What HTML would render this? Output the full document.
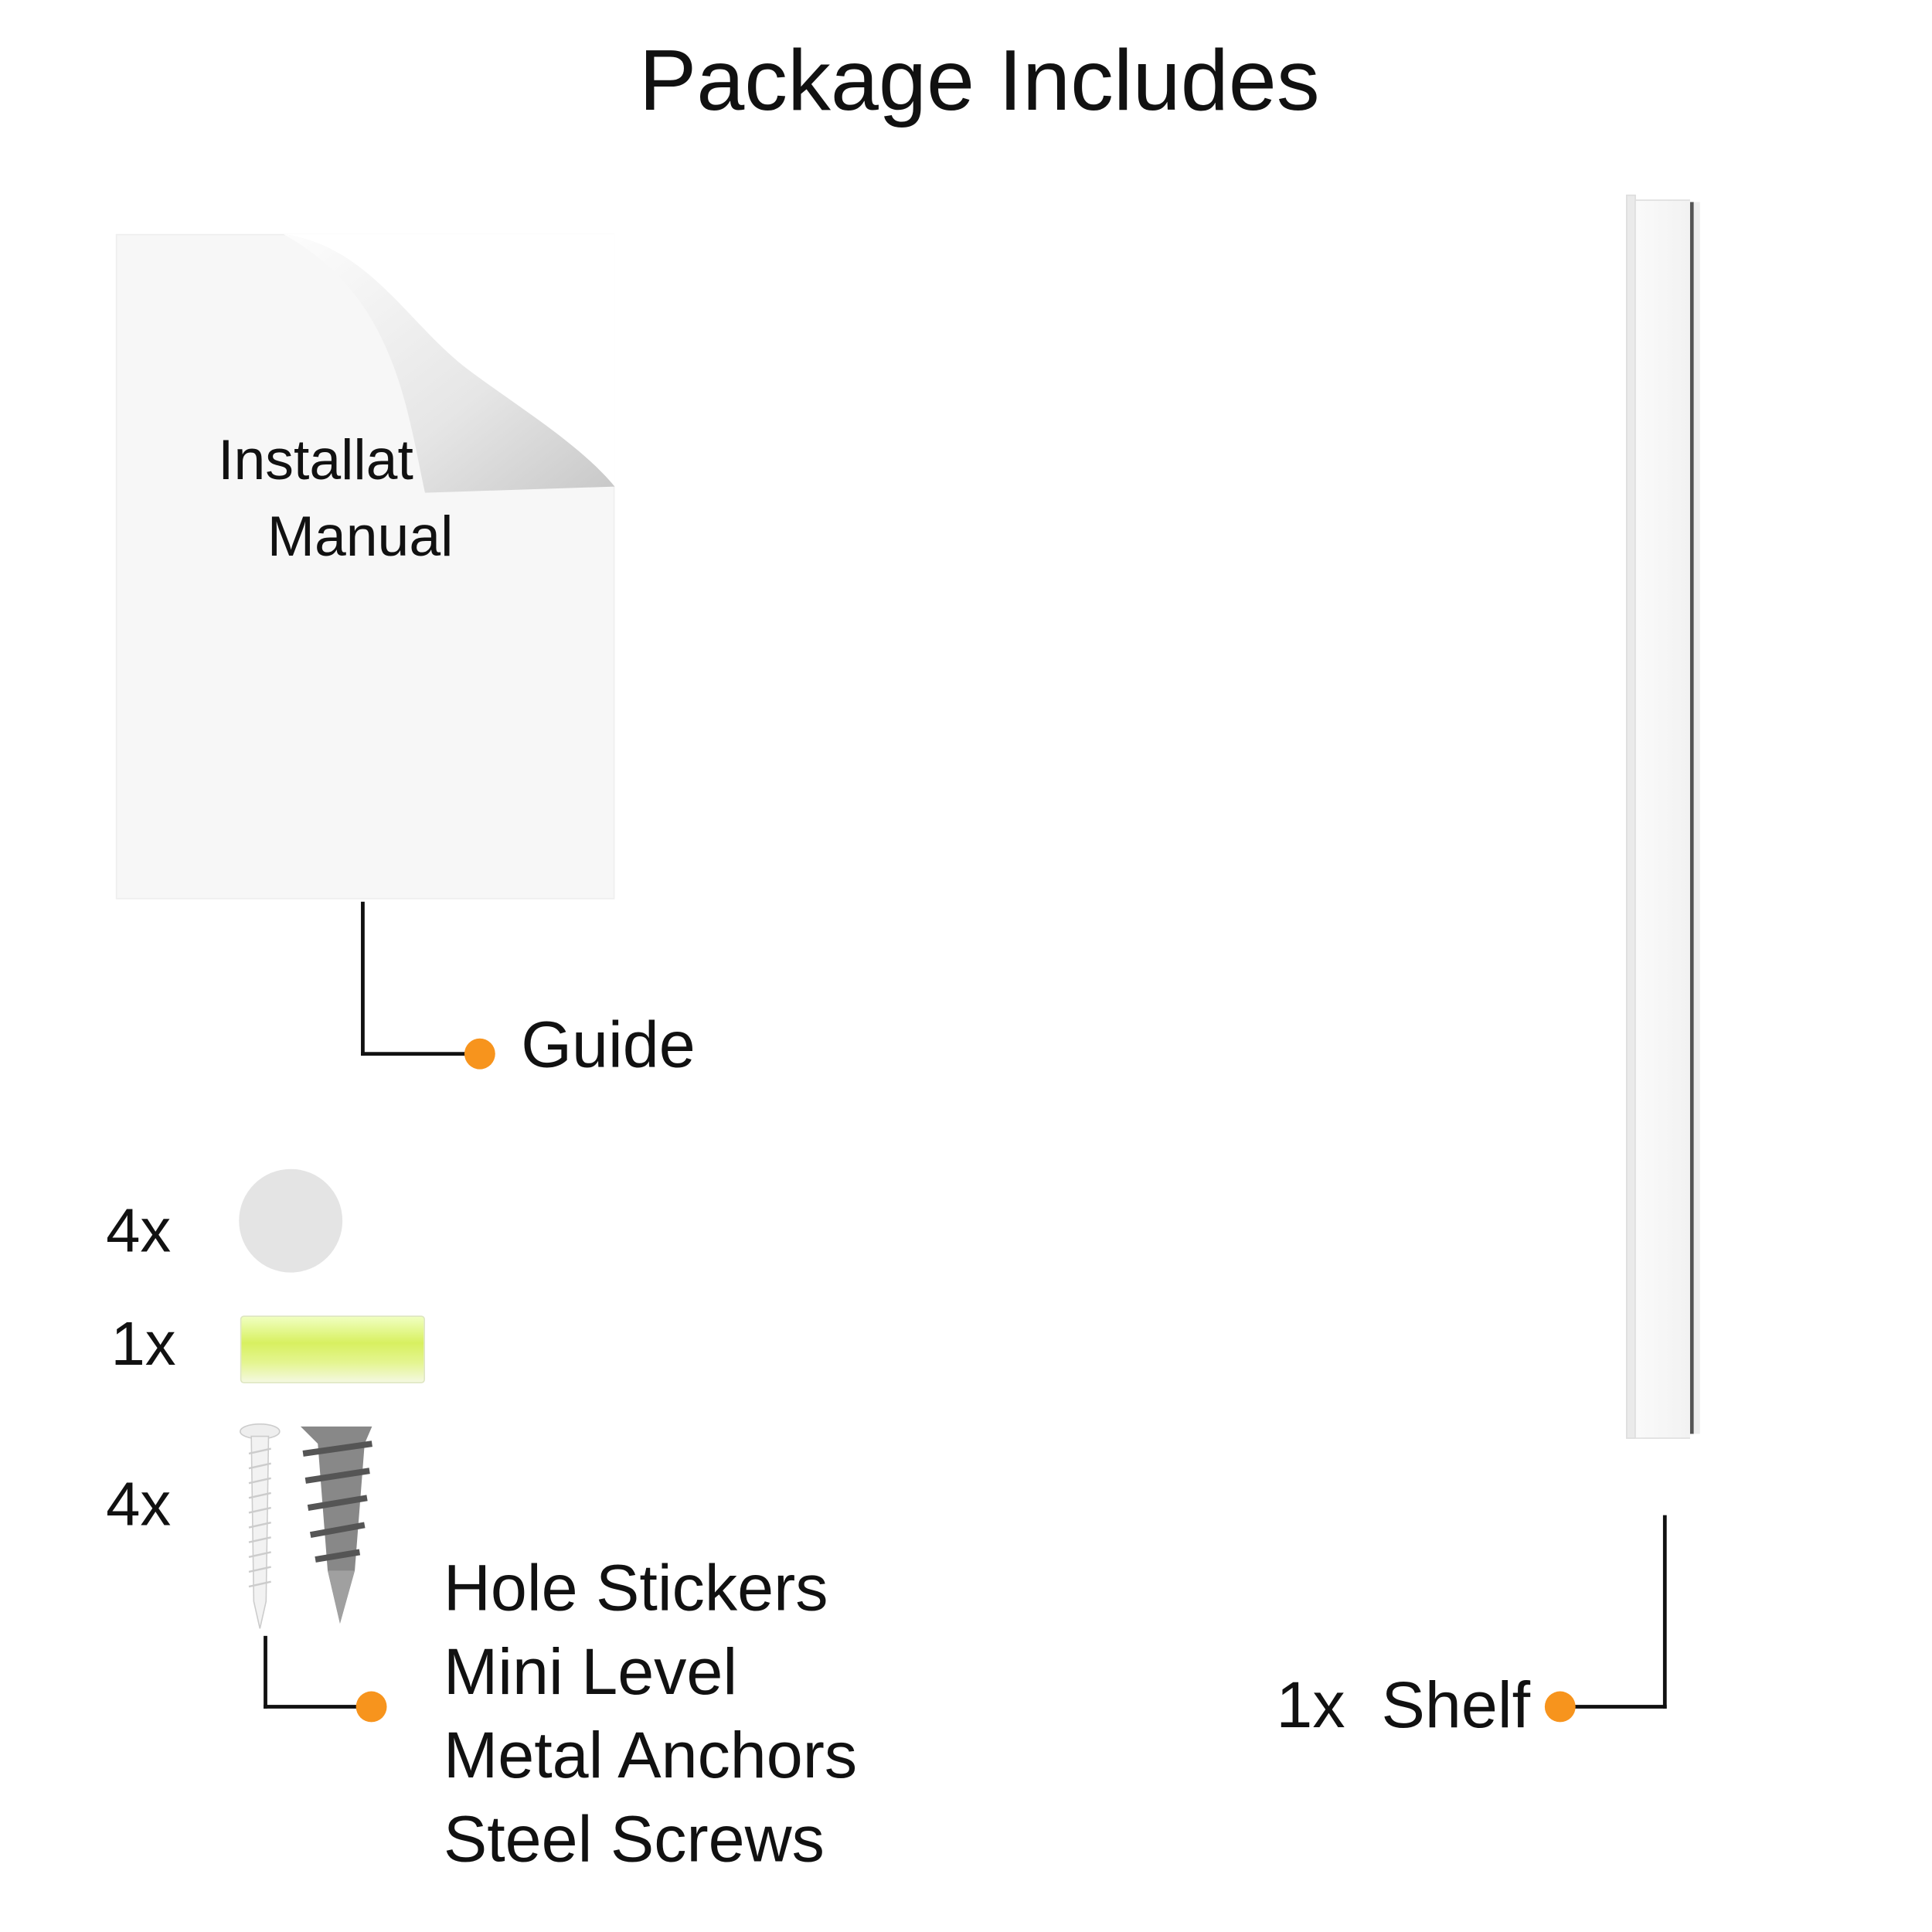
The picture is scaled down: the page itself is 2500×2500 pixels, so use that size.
<!DOCTYPE html>
<html><head><meta charset="utf-8"><style>
html,body{margin:0;padding:0;background:#fff;}
body{width:2500px;height:2500px;overflow:hidden;position:relative;}
#w{position:absolute;left:0;top:0;width:1568px;height:1568px;transform:scale(1.594);transform-origin:0 0;font-family:"Liberation Sans",sans-serif;color:#111;}
.t{position:absolute;white-space:nowrap;line-height:1;}
.l{position:absolute;background:#111;}
.d{position:absolute;width:25px;height:25px;border-radius:50%;background:#f7941d;}
</style></head><body><div id="w">
<div class="t" style="left:0;width:1590px;text-align:center;top:30px;font-size:70px;">Package Includes</div>

<div style="position:absolute;left:94px;top:190px;width:405px;height:540px;background:#f7f7f7;border:1px solid #eee;box-sizing:border-box;"></div>
<svg style="position:absolute;left:0;top:0" width="1552" height="1552">
<defs><linearGradient id="g" x1="0" y1="0" x2="1" y2="1"><stop offset="0" stop-color="#fdfdfd"/><stop offset="0.6" stop-color="#e6e6e6"/><stop offset="1" stop-color="#c8c8c8"/></linearGradient></defs>
<path d="M230,190 L499,190 L499,395 C470,360 420,330 380,300 C330,262 300,200 230,190 Z" fill="#fff"/>
<path d="M230,190 C300,200 330,262 380,300 C420,330 470,360 499,395 L345,400 C330,330 320,240 230,190 Z" fill="url(#g)"/>
</svg>
<div class="t" style="left:177px;top:350px;font-size:46px;">Installat</div>
<div class="t" style="left:217px;top:412px;font-size:46px;">Manual</div>
<div class="l" style="left:293px;top:732px;width:3px;height:125px;"></div>
<div class="l" style="left:293px;top:854px;width:92px;height:3px;"></div>
<div class="d" style="left:377px;top:843px;"></div>
<div class="t" style="left:423px;top:822px;font-size:53px;">Guide</div>

<div class="t" style="left:86px;top:974px;font-size:50px;">4x</div>
<div style="position:absolute;left:194px;top:949px;width:84px;height:84px;border-radius:50%;background:#e4e4e4;"></div>
<div class="t" style="left:90px;top:1066px;font-size:50px;">1x</div>
<div style="position:absolute;left:195px;top:1068px;width:150px;height:55px;background:linear-gradient(#f0ffc0,#d8f060 40%,#e4f590 70%,#f4f8e0);border-radius:3px;border:1px solid #dde5c0;box-sizing:border-box;"></div>
<div class="t" style="left:86px;top:1196px;font-size:50px;">4x</div>
<svg style="position:absolute;left:190px;top:1150px" width="120" height="175">
<ellipse cx="21" cy="12" rx="16" ry="6" fill="#eee" stroke="#ccc"/>
<path d="M14,16 L28,16 L26,150 L21,172 L16,150 Z" fill="#f2f2f2" stroke="#ccc"/>
<g stroke="#ccc" stroke-width="1.5"><path d="M12,30 L30,26 M12,42 L30,38 M12,54 L30,50 M12,66 L30,62 M12,78 L30,74 M12,90 L30,86 M12,102 L30,98 M12,114 L30,110 M12,126 L30,122 M12,138 L30,134"/></g>
<path d="M54,8 L112,8 L106,22 L98,125 L86,168 L76,125 L68,22 Z" fill="#888"/>
<g stroke="#555" stroke-width="5" fill="none"><path d="M56,30 L112,22 M58,52 L110,44 M60,74 L108,66 M62,96 L106,88 M66,116 L102,110"/></g>
<path d="M76,125 L98,125 L86,168 Z" fill="#a0a0a0"/>
</svg>
<div class="l" style="left:214px;top:1328px;width:3px;height:59px;"></div>
<div class="l" style="left:214px;top:1384px;width:78px;height:3px;"></div>
<div class="d" style="left:289px;top:1373px;"></div>
<div class="t" style="left:360px;top:1256px;font-size:53px;line-height:68px;">Hole Stickers<br>Mini Level<br>Metal Anchors<br>Steel Screws</div>

<div style="position:absolute;left:1320px;top:158px;width:8px;height:1010px;background:#eaeaea;border:1px solid #ddd;box-sizing:border-box;"></div>
<div style="position:absolute;left:1328px;top:162px;width:44px;height:1004px;background:linear-gradient(90deg,#fafafa,#f2f2f2);border-top:1px solid #ddd;border-bottom:1px solid #ddd;"></div>
<div style="position:absolute;left:1372px;top:164px;width:3px;height:1000px;background:#555;"></div>
<div style="position:absolute;left:1375px;top:164px;width:5px;height:1000px;background:#eee;"></div>
<div class="l" style="left:1350px;top:1230px;width:3px;height:157px;"></div>
<div class="l" style="left:1278px;top:1384px;width:75px;height:3px;"></div>
<div class="d" style="left:1254px;top:1373px;"></div>
<div class="t" style="left:1036px;top:1358px;font-size:53px;">1x&nbsp; Shelf</div>
</div></body></html>
